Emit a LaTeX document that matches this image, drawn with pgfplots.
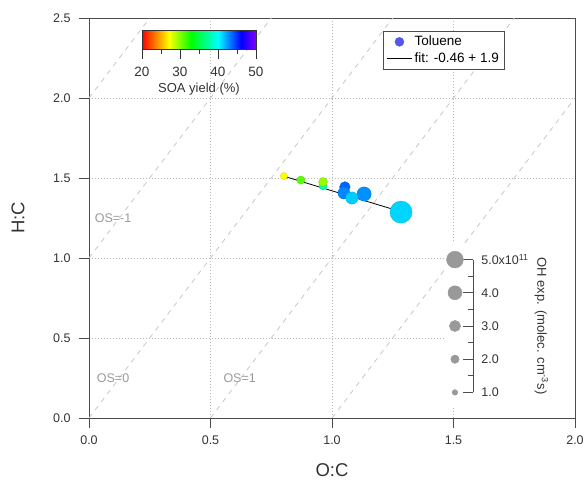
\documentclass[border=0pt]{standalone}
\usepackage{pgfplots}
\pgfplotsset{compat=1.18}
\usepackage{pgfplotstable}
\usepackage{fontspec}
\setmainfont{Liberation Sans}
\usetikzlibrary{calc}

% O:C, H:C, SOA yield (%), OH exposure (1e11 molec cm-3 s)
\pgfplotstableread{
oc    hc     soa   oh
0.963 1.450  38.0  1.86
0.963 1.475  29.5  2.2
0.802 1.512  27.0  1.6
0.872 1.487  31.0  1.9
1.053 1.444  43.6  2.8
1.049 1.406  42.8  3.3
1.132 1.400  42.6  4.1
1.082 1.375  41.2  3.4
1.284 1.287  41.0  6.9
}\toluene

% size key of the OH exposure scale
\pgfplotstableread{
x    y      oh
1.506 0.160 1
1.506 0.3675 2
1.506 0.575 3
1.506 0.7825 4
1.506 0.990 5
}\ohkey

\definecolor{axcol}{gray}{0.3}
\definecolor{oslab}{gray}{0.6}
\definecolor{osline}{gray}{0.78}
\definecolor{gridcol}{gray}{0.72}
\definecolor{keydot}{gray}{0.6}
\definecolor{tolblue}{RGB}{85,85,235}

\pgfplotsset{
  colormap={igor}{rgb255(0cm)=(255,0,0) rgb255(7cm)=(255,255,0) rgb255(13cm)=(0,255,0)
    rgb255(20cm)=(0,255,255) rgb255(26cm)=(0,0,255) rgb255(30cm)=(130,0,255)},
  markleg/.style={legend image code/.code={\draw[mark repeat=2, mark phase=2, ##1] plot coordinates {(0cm,0cm) (0.45cm,0cm) (0.9cm,0cm)};}},
  lineleg/.style={legend image code/.code={\draw[##1] (0cm,0cm) -- (0.9cm,0cm);}},
}

\begin{document}
\begin{tikzpicture}
\begin{axis}[
  name=ax,
  scale only axis, width=486pt, height=400pt,
  xmin=0, xmax=2, ymin=0, ymax=2.5,
  xtick={0,0.5,1,1.5,2}, xticklabels={0.0,0.5,1.0,1.5,2.0},
  ytick={0,0.5,1,1.5,2,2.5}, yticklabels={0.0,0.5,1.0,1.5,2.0,2.5},
  xtick pos=left, ytick pos=left,
  tick align=outside, major tick length=10pt,
  tick style={axcol, line width=0.8pt},
  axis line style={axcol, line width=0.8pt},
  grid=major, major grid style={gridcol, line width=0.6pt, dash pattern=on 1pt off 2pt},
  tick label style={font=\fontsize{12.5}{14}\selectfont, text=black!80},
  xticklabel style={yshift=-4pt},
  yticklabel style={xshift=-5pt},
  xlabel={O:C}, ylabel={H:C},
  label style={font=\fontsize{18.5}{20}\selectfont, text=black!80},
  xlabel style={at={(axis description cs:0.5,-0.13)}, anchor=center},
  ylabel style={at={(axis description cs:-0.146,0.5)}, anchor=center},
  colormap name=igor,
  point meta min=20, point meta max=50,
  legend style={at={(0.605,0.9675)}, anchor=north west, draw=black!70, fill=white,
    font=\fontsize{13.5}{15}\selectfont, inner xsep=3pt, inner ysep=3pt,
    cells={anchor=west}, row sep=1pt},
]
% oxidation state lines, H:C = 2 O:C - OS
\addplot[osline, line width=0.8pt, dash pattern=on 5pt off 5pt, forget plot] coordinates {(0,2) (0.25,2.5)};
\addplot[osline, line width=0.8pt, dash pattern=on 5pt off 5pt, forget plot] coordinates {(0,1) (0.75,2.5)};
\addplot[osline, line width=0.8pt, dash pattern=on 5pt off 5pt, forget plot] coordinates {(0,0) (1.25,2.5)};
\addplot[osline, line width=0.8pt, dash pattern=on 5pt off 5pt, forget plot] coordinates {(0.5,0) (1.75,2.5)};
\addplot[osline, line width=0.8pt, dash pattern=on 5pt off 5pt, forget plot] coordinates {(1,0) (2,2)};
\node[oslab, font=\fontsize{12.5}{14}\selectfont] at (0.099,1.25) {OS=-1};
\node[oslab, font=\fontsize{12.5}{14}\selectfont] at (0.099,0.25) {OS=0};
\node[oslab, font=\fontsize{12.5}{14}\selectfont] at (0.62,0.25) {OS=1};

% toluene data, colour = SOA yield, size = OH exposure
\addplot[scatter, only marks, mark=*, forget plot,
  point meta=\thisrow{soa},
  visualization depends on={\thisrow{oh} \as \ohv},
  scatter/use mapped color={draw=mapped color!85!black, fill=mapped color},
  scatter/@pre marker code/.append style={/tikz/mark size=1.4*\ohv+1.4},
  mark options={line width=0.3pt}]
  table[x=oc, y=hc] {\toluene};
\addplot[black, line width=0.8pt, forget plot] coordinates {(0.80,1.512) (1.287,1.288)};

% OH exposure size key
\fill[white] (1.465,0.07) rectangle (1.99,1.095);
\addplot[scatter, only marks, mark=*, forget plot,
  point meta=\thisrow{oh},
  visualization depends on={\thisrow{oh} \as \ohk},
  scatter/use mapped color={draw=keydot, fill=keydot},
  scatter/@pre marker code/.append style={/tikz/mark size=1.4*\ohk+1.4}]
  table[x=x, y=y] {\ohkey};
\draw[axcol, line width=0.8pt] (1.58,0.16) -- (1.58,0.99);
\draw[axcol, line width=0.8pt] (1.539,0.16) -- (1.58,0.16);
\draw[axcol, line width=0.8pt] (1.539,0.3675) -- (1.58,0.3675);
\draw[axcol, line width=0.8pt] (1.539,0.575) -- (1.58,0.575);
\draw[axcol, line width=0.8pt] (1.539,0.7825) -- (1.58,0.7825);
\draw[axcol, line width=0.8pt] (1.539,0.99) -- (1.58,0.99);
\draw[axcol, line width=0.8pt] (1.56,0.264) -- (1.58,0.264);
\draw[axcol, line width=0.8pt] (1.56,0.471) -- (1.58,0.471);
\draw[axcol, line width=0.8pt] (1.56,0.679) -- (1.58,0.679);
\draw[axcol, line width=0.8pt] (1.56,0.886) -- (1.58,0.886);
\node[anchor=west, font=\fontsize{12.5}{14}\selectfont, text=black!80] at (1.60,0.99) {5.0x10\textsuperscript{11}};
\node[anchor=west, font=\fontsize{12.5}{14}\selectfont, text=black!80] at (1.60,0.7825) {4.0};
\node[anchor=west, font=\fontsize{12.5}{14}\selectfont, text=black!80] at (1.60,0.575) {3.0};
\node[anchor=west, font=\fontsize{12.5}{14}\selectfont, text=black!80] at (1.60,0.3675) {2.0};
\node[anchor=west, font=\fontsize{12.5}{14}\selectfont, text=black!80] at (1.60,0.16) {1.0};
\node[rotate=-90, font=\fontsize{13}{15}\selectfont, text=black!80] at (1.862,0.575) {OH exp. (molec. cm\textsuperscript{-3}s)};

% legend
\addlegendimage{only marks, mark=*, mark size=4.5pt, color=tolblue, markleg}
\addlegendentry{Toluene}
\addlegendimage{black, line width=0.8pt, lineleg}
\addlegendentry{fit: -0.46 + 1.9}
\end{axis}

% SOA yield colour scale
\begin{axis}[
  at={($(ax.north west)+(53pt,-12pt)$)}, anchor=north west,
  scale only axis, width=114pt, height=19pt,
  xmin=20, xmax=50, ymin=0, ymax=1,
  ytick=\empty, xtick={20,30,40,50}, xticklabels={20,30,40,50},
  minor xtick={25,35,45},
  xtick pos=left, tick align=outside,
  major tick length=10pt, minor tick length=5pt,
  tick style={black!80, line width=0.8pt},
  axis line style={black!80, line width=0.6pt},
  axis on top,
  colormap name=igor, point meta min=20, point meta max=50,
  xticklabel style={font=\fontsize{13.5}{15}\selectfont, text=black!80, yshift=-5pt},
  xlabel={SOA yield (\%)},
  xlabel style={font=\fontsize{13}{15}\selectfont, text=black!80,
    at={(axis description cs:0.5,0)}, anchor=center, yshift=-40pt},
]
\addplot[surf, shader=interp, point meta=x] coordinates {
(20,0) (27,0) (33,0) (40,0) (46,0) (50,0)

(20,1) (27,1) (33,1) (40,1) (46,1) (50,1)
};
\end{axis}
\pgfresetboundingbox
\path ($(ax.south west)+(-89pt,-61pt)$) rectangle ($(ax.north east)+(11pt,18pt)$);
\end{tikzpicture}
\end{document}
